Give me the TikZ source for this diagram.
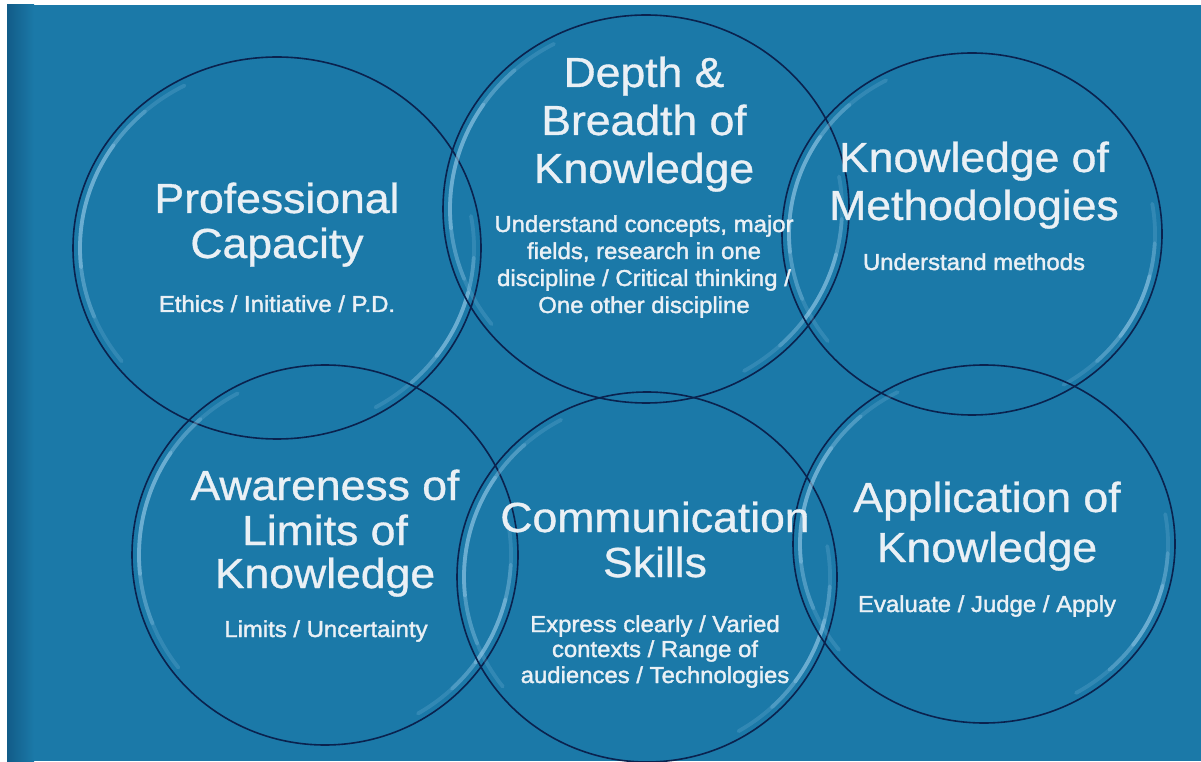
\documentclass[tikz,border=0pt]{standalone}
\usepackage{fontspec}
\setmainfont{Liberation Sans}[FakeStretch=1.06, FakeBold=0.8]
\newfontfamily\detailfont{Liberation Sans}[FakeStretch=1.04, FakeBold=1.6]

\definecolor{panel}{RGB}{27,121,168}
\definecolor{panelshade}{RGB}{18,92,136}
\definecolor{ringline}{RGB}{10,34,78}
\definecolor{gloss}{RGB}{175,220,245}
\definecolor{ink}{RGB}{234,240,245}

\tikzset{
  ring/.style={draw=ringline, line width=1.6pt},
  glossarc/.style={draw=gloss, line width=3.8pt, line cap=round},
  title/.style={text=ink, font=\fontsize{42}{48}\selectfont, anchor=base, inner sep=0pt},
  detail/.style={text=ink, font=\detailfont\fontsize{23}{27}\selectfont, anchor=base, inner sep=0pt},
}

% a glassy ring: name, centre x, centre y, x radius, y radius
\newcommand\glassbubble[5]{%
  \coordinate (#1) at (#2,#3);
  \pgfmathsetmacro\gx{#4-7}\pgfmathsetmacro\gy{#5-7}
  \draw[ring] (#1) ellipse [x radius=#4pt, y radius=#5pt];
  \foreach \sa/\ea/\op in {118/218/0.16,132/202/0.22,146/186/0.3,-60/10/0.16,-47/-3/0.22,-36/-14/0.3}
    \draw[glossarc, draw opacity=\op] ([shift={(\sa:\gx pt and \gy pt)}]#1)
      arc[start angle=\sa, end angle=\ea, x radius=\gx pt, y radius=\gy pt];
}

\begin{document}
\begin{tikzpicture}[x=1pt, y=1pt]
  \useasboundingbox (0,0) rectangle (1201,761);
  \fill[white] (0,0) rectangle (1201,761);
  \fill[panel] (7,0) rectangle (1201,756);
  \shade[left color=panelshade, right color=panel] (7,0) rectangle (34,756);

  % six overlapping rings
  \glassbubble{c1}{277}{513}{204}{191}
  \glassbubble{c2}{646}{552}{203}{194}
  \glassbubble{c3}{972}{527}{190}{181}
  \glassbubble{c4}{325}{206}{193}{190}
  \glassbubble{c5}{647}{184}{190}{185}
  \glassbubble{c6}{984}{217}{191}{179}

  % Professional Capacity
  \node[title]  (t1a) at (277,548) {Professional};
  \node[title]  (t1b) at (277,503) {Capacity};
  \node[detail] (d1a) at (277,449) {Ethics / Initiative / P.D.};

  % Depth & Breadth of Knowledge
  \node[title]  (t2a) at (644,674) {Depth \&};
  \node[title]  (t2b) at (644,626) {Breadth of};
  \node[title]  (t2c) at (644,578) {Knowledge};
  \node[detail] (d2a) at (644,529) {Understand concepts, major};
  \node[detail] (d2b) at (644,502) {fields, research in one};
  \node[detail] (d2c) at (644,475) {discipline / Critical thinking /};
  \node[detail] (d2d) at (644,448) {One other discipline};

  % Knowledge of Methodologies
  \node[title]  (t3a) at (974,589) {Knowledge of};
  \node[title]  (t3b) at (974,541) {Methodologies};
  \node[detail] (d3a) at (974,491) {Understand methods};

  % Awareness of Limits of Knowledge
  \node[title]  (t4a) at (325,261) {Awareness of};
  \node[title]  (t4b) at (325,216) {Limits of};
  \node[title]  (t4c) at (325,173) {Knowledge};
  \node[detail] (d4a) at (326,124) {Limits / Uncertainty};

  % Communication Skills
  \node[title]  (t5a) at (655,229) {Communication};
  \node[title]  (t5b) at (655,184) {Skills};
  \node[detail] (d5a) at (655,129) {Express clearly / Varied};
  \node[detail] (d5b) at (655,104) {contexts / Range of};
  \node[detail] (d5c) at (655,78)  {audiences / Technologies};

  % Application of Knowledge
  \node[title]  (t6a) at (987,249) {Application of};
  \node[title]  (t6b) at (987,199) {Knowledge};
  \node[detail] (d6a) at (987,149) {Evaluate / Judge / Apply};
\end{tikzpicture}
\end{document}
